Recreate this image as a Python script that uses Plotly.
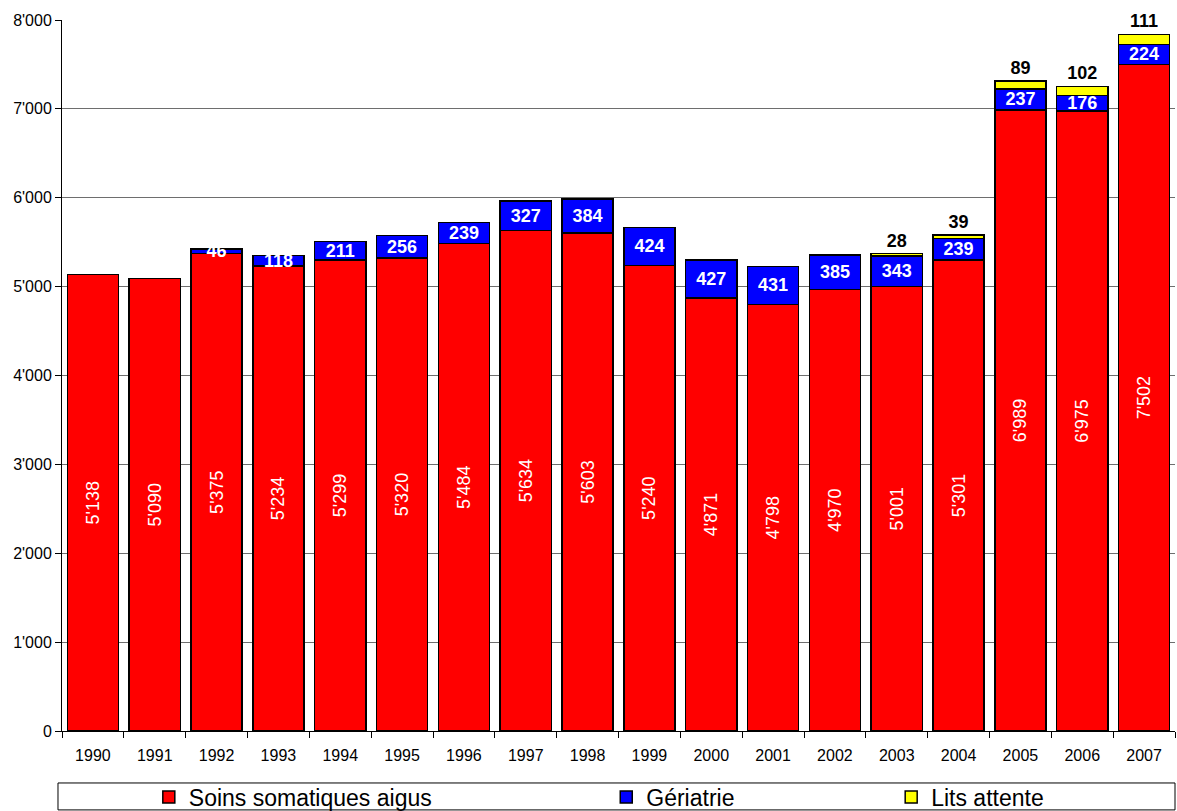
import plotly.graph_objects as go

years = [str(y) for y in range(1990, 2008)]
soins = [5138, 5090, 5375, 5234, 5299, 5320, 5484, 5634, 5603, 5240,
         4871, 4798, 4970, 5001, 5301, 6989, 6975, 7502]
geriatrie = [None, None, 46, 118, 211, 256, 239, 327, 384, 424,
             427, 431, 385, 343, 239, 237, 176, 224]
lits = [None] * 13 + [28, 39, 89, 102, 111]

y_ticks = [0, 1000, 2000, 3000, 4000, 5000, 6000, 7000, 8000]
y_labels = ["0", "1'000", "2'000", "3'000", "4'000", "5'000", "6'000", "7'000", "8'000"]


def fmt(v):
    if v is None:
        return ""
    s = str(v)
    return s if len(s) <= 3 else s[:-3] + "'" + s[-3:]


FONT = "Liberation Sans, Arial, sans-serif"
edge = dict(color="black", width=1.5)

fig = go.Figure()
fig.add_bar(
    x=years, y=soins, name="Soins somatiques aigus",
    marker=dict(color="#FF0000", line=edge),
    text=[fmt(v) for v in soins], textposition="inside", insidetextanchor="middle",
    textangle=-90, constraintext="none",
    textfont=dict(family=FONT, size=18, color="white"),
    legend="legend", showlegend=True,
)
fig.add_bar(
    x=years, y=geriatrie, name="Gériatrie",
    marker=dict(color="#0000FF", line=edge),
    text=[fmt(v) for v in geriatrie], textposition="inside", insidetextanchor="middle",
    textangle=0, constraintext="none",
    textfont=dict(family=FONT, size=18, color="white", weight="bold"),
    legend="legend2", showlegend=True,
)
fig.add_bar(
    x=years, y=lits, name="Lits attente",
    marker=dict(color="#FFFF00", line=edge),
    text=[fmt(v) for v in lits], textposition="outside",
    textangle=0, constraintext="none",
    textfont=dict(family=FONT, size=18, color="black", weight="bold"),
    cliponaxis=False,
    legend="legend3", showlegend=True,
)

leg_common = dict(
    orientation="h", yanchor="middle", y=-0.093, xanchor="left",
    font=dict(family=FONT, size=23, color="black"),
    bgcolor="rgba(0,0,0,0)", borderwidth=0, visible=True,
)

fig.update_layout(
    width=1177, height=811,
    margin=dict(l=62, r=2, t=20, b=80, autoexpand=False),
    barmode="stack", bargap=0.17,
    plot_bgcolor="white", paper_bgcolor="white",
    font=dict(family=FONT, color="black"),
    showlegend=True,
    legend=dict(x=0.078, **leg_common),
    legend2=dict(x=0.489, **leg_common),
    legend3=dict(x=0.745, **leg_common),
    shapes=[dict(
        type="rect", xref="paper", yref="paper",
        x0=-0.0036, x1=1.0, y0=-0.111, y1=-0.0731,
        line=dict(color="black", width=1), fillcolor="rgba(0,0,0,0)",
        layer="above",
    )],
)
fig.update_xaxes(
    type="category", showline=True, linecolor="black", linewidth=1,
    ticks="outside", tickson="boundaries", ticklen=6, tickcolor="black",
    ticklabelstandoff=10,
    tickfont=dict(family=FONT, size=16, color="black"),
    showgrid=False,
)
fig.update_yaxes(
    range=[0, 8000], tickvals=y_ticks, ticktext=y_labels,
    showline=True, linecolor="black", linewidth=1,
    ticks="outside", ticklen=6, tickcolor="black",
    tickfont=dict(family=FONT, size=16, color="black"),
    showgrid=True, gridcolor="#6e6e6e", gridwidth=1, zeroline=False,
)

fig.write_html("out.html")
